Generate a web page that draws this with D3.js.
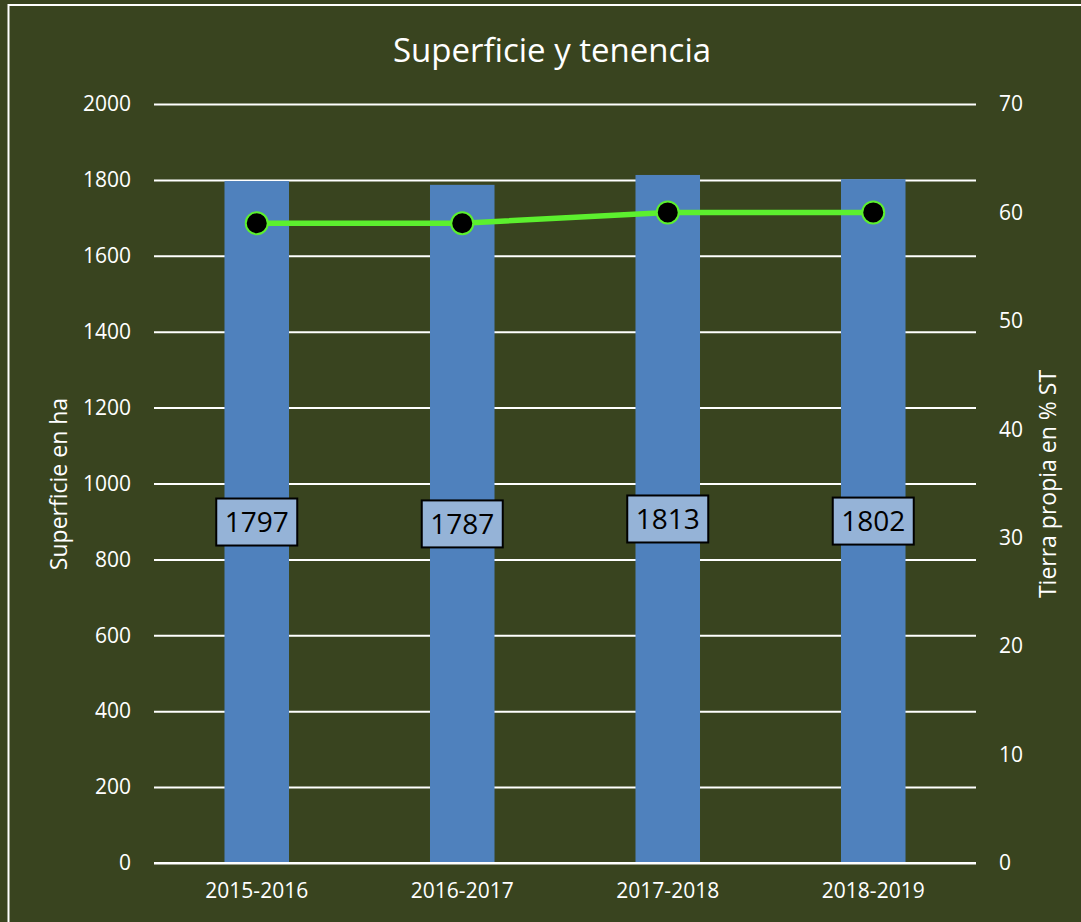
<!DOCTYPE html>
<html>
<head>
<meta charset="utf-8">
<script src="https://cdn.jsdelivr.net/npm/d3@7"></script>
<style>
  body { margin: 0; background: #39441f; }
  svg { display: block; font-family: "Open Sans", sans-serif; }
</style>
</head>
<body>
<svg id="chart" width="1081" height="922"></svg>
<script>
// campaigns and values
let campaigns = ["2015-2016", "2016-2017", "2017-2018", "2018-2019"];
let superficie = [1797, 1787, 1813, 1802];   // ha, bars (left axis)
let tierraPropia = [59, 59, 60, 60];          // % ST, line (right axis)
let leftTicks = [0, 200, 400, 600, 800, 1000, 1200, 1400, 1600, 1800, 2000];
let rightTicks = [0, 10, 20, 30, 40, 50, 60, 70];

let svg = d3.select("#chart");
let plot = {left: 154, right: 976, top: 104, bottom: 863};
let fontFam = "'Open Sans', sans-serif";

// background + frame
svg.append("rect")
    .attr("width", 1081).attr("height", 922)
    .style("fill", "#39441f");
svg.append("rect")
    .attr("x", 8.5).attr("y", 5)
    .attr("width", 1090).attr("height", 940)
    .style("fill", "none").style("stroke", "#ffffff").style("stroke-width", 2);

let x = d3.scaleBand()
    .domain(campaigns)
    .range([plot.left, plot.right])
    .paddingInner(0.686)
    .paddingOuter(0.343);
let yLeft = d3.scaleLinear().domain([0, 2000]).range([plot.bottom, plot.top]);
let yRight = d3.scaleLinear().domain([0, 70]).range([plot.bottom, plot.top]);

// gridlines + left labels
let leftAxis = d3.axisLeft(yLeft)
    .tickValues(leftTicks)
    .tickFormat(d3.format("d"))
    .tickSize(-(plot.right - plot.left))
    .tickPadding(23);
let gl = svg.append("g")
    .attr("transform", "translate(" + plot.left + ",0)")
    .call(leftAxis);
gl.select(".domain").remove();
gl.selectAll("line").style("stroke", "#ffffff").style("stroke-width", 2);
gl.selectAll("text")
    .style("fill", "#ffffff")
    .style("font-size", "21px")
    .style("font-family", fontFam);

// right labels
let rightAxis = d3.axisRight(yRight)
    .tickValues(rightTicks)
    .tickFormat(d3.format("d"))
    .tickSize(0)
    .tickPadding(23);
let gr = svg.append("g")
    .attr("transform", "translate(" + plot.right + ",0)")
    .call(rightAxis);
gr.select(".domain").remove();
gr.selectAll("text")
    .style("fill", "#ffffff")
    .style("font-size", "21px")
    .style("font-family", fontFam);

// bars
svg.selectAll(".bar")
    .data(superficie)
    .enter().append("rect")
    .attr("class", "bar")
    .attr("x", function(d, i){ return x(campaigns[i]); })
    .attr("width", x.bandwidth())
    .attr("y", function(d){ return yLeft(d); })
    .attr("height", function(d){ return yLeft(0) - yLeft(d); })
    .style("fill", "#4f81bd");

// x labels
let xAxis = d3.axisBottom(x).tickSize(0).tickPadding(20);
let gx = svg.append("g")
    .attr("transform", "translate(0," + plot.bottom + ")")
    .call(xAxis);
gx.select(".domain").remove();
gx.selectAll("text")
    .style("fill", "#ffffff")
    .style("font-size", "21px")
    .style("font-family", fontFam);

// redraw zero line on top of bars
svg.append("line")
    .attr("x1", plot.left).attr("x2", plot.right)
    .attr("y1", yLeft(0)).attr("y2", yLeft(0))
    .style("stroke", "#ffffff").style("stroke-width", 2);

// data labels in boxes at mid bar
let lbl = svg.selectAll(".lbl")
    .data(superficie)
    .enter().append("g")
    .attr("class", "lbl")
    .attr("transform", function(d, i){
        let cx = x(campaigns[i]) + x.bandwidth() / 2;
        let cy = (yLeft(d) + yLeft(0)) / 2;
        return "translate(" + cx + "," + cy + ")";
    });
lbl.append("rect")
    .attr("x", -40.5).attr("y", -23.5)
    .attr("width", 81).attr("height", 47)
    .style("fill", "#95b3d7")
    .style("stroke", "#000000")
    .style("stroke-width", 2);
lbl.append("text")
    .text(function(d){ return d; })
    .attr("text-anchor", "middle")
    .attr("dy", "0.36em")
    .style("font-size", "28px")
    .style("fill", "#000000");

// line + markers
let line = d3.line()
    .x(function(d, i){ return x(campaigns[i]) + x.bandwidth() / 2; })
    .y(function(d){ return yRight(d); });
svg.append("path")
    .datum(tierraPropia)
    .attr("d", line)
    .style("fill", "none")
    .style("stroke", "#5cf02e")
    .style("stroke-width", 5.5)
    .style("stroke-linejoin", "round");
svg.selectAll(".pt")
    .data(tierraPropia)
    .enter().append("circle")
    .attr("class", "pt")
    .attr("cx", function(d, i){ return x(campaigns[i]) + x.bandwidth() / 2; })
    .attr("cy", function(d){ return yRight(d); })
    .attr("r", 11)
    .style("fill", "#000000")
    .style("stroke", "#5cf02e")
    .style("stroke-width", 2);

// title + axis titles
svg.append("text")
    .text("Superficie y tenencia")
    .attr("x", 552).attr("y", 62)
    .attr("text-anchor", "middle")
    .style("font-size", "33px")
    .style("fill", "#ffffff");
svg.append("text")
    .text("Superficie en ha")
    .attr("transform", "translate(67,484) rotate(-90)")
    .attr("text-anchor", "middle")
    .style("font-size", "23px")
    .style("fill", "#ffffff");
svg.append("text")
    .text("Tierra propia en % ST")
    .attr("transform", "translate(1056,484) rotate(-90)")
    .attr("text-anchor", "middle")
    .style("font-size", "23px")
    .style("fill", "#ffffff");
</script>
</body>
</html>
